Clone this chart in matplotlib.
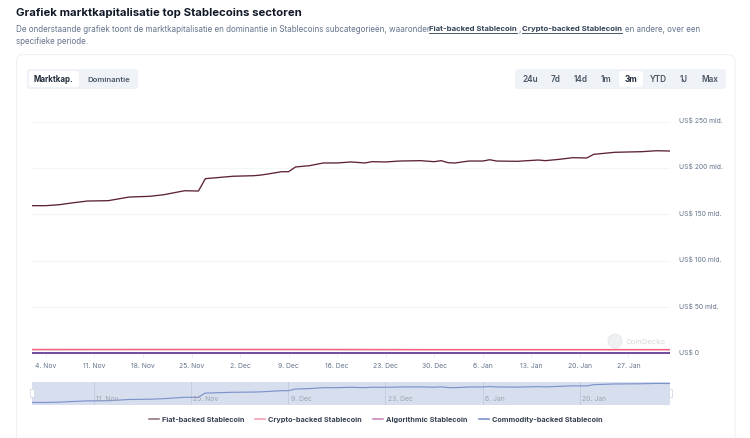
import matplotlib
matplotlib.use("Agg")
import matplotlib.pyplot as plt
from matplotlib.patches import FancyBboxPatch, Rectangle, Circle
from matplotlib.transforms import ScaledTranslation
import pandas as pd

plt.rcParams["font.family"] = ["Inter", "DejaVu Sans"]

fiat_dates = ["2024-11-02", "2024-11-04", "2024-11-06", "2024-11-08", "2024-11-10", "2024-11-13",
              "2024-11-16", "2024-11-19", "2024-11-21", "2024-11-24", "2024-11-26", "2024-11-27",
              "2024-12-01", "2024-12-04", "2024-12-05", "2024-12-06", "2024-12-08", "2024-12-09",
              "2024-12-10", "2024-12-12", "2024-12-14", "2024-12-16", "2024-12-18", "2024-12-20",
              "2024-12-21", "2024-12-23", "2024-12-25", "2024-12-28", "2024-12-30", "2024-12-31",
              "2025-01-01", "2025-01-02", "2025-01-04", "2025-01-06", "2025-01-07", "2025-01-08",
              "2025-01-11", "2025-01-14", "2025-01-15", "2025-01-17", "2025-01-19", "2025-01-21",
              "2025-01-22", "2025-01-25", "2025-01-29", "2025-01-31", "2025-02-02"]
fiat_values = [159.3, 159.3, 160.4, 162.5, 164.3, 164.7,
               168.6, 169.4, 171.1, 175.4, 175.1, 188.4,
               191.0, 191.6, 192.3, 193.4, 195.9, 195.9,
               201.0, 202.4, 205.3, 205.3, 206.4, 205.3,
               206.7, 206.4, 207.4, 207.8, 206.7, 207.8,
               205.6, 205.3, 207.4, 207.4, 208.8, 207.4,
               207.1, 208.5, 207.8, 209.2, 211.0, 210.7,
               214.6, 216.8, 217.5, 218.5, 218.2]

small_dates = ["2024-11-02", "2024-11-25", "2024-12-09", "2024-12-30", "2025-01-20", "2025-02-02"]
crypto_values = [4.2, 4.3, 4.3, 4.1, 4.1, 4.1]
algo_values = [0.4, 0.4, 0.4, 0.4, 0.4, 0.4]
commodity_values = [0.1, 0.1, 0.1, 0.1, 0.1, 0.1]

y_ticks = [0, 50, 100, 150, 200, 250]
y_labels = ["US$ 0", "US$ 50 mld.", "US$ 100 mld.", "US$ 150 mld.", "US$ 200 mld.", "US$ 250 mld."]
week_ticks = ["2024-11-04", "2024-11-11", "2024-11-18", "2024-11-25", "2024-12-02", "2024-12-09", "2024-12-16",
              "2024-12-23", "2024-12-30", "2025-01-06", "2025-01-13", "2025-01-20", "2025-01-27"]
week_labels = ["4. Nov", "11. Nov", "18. Nov", "25. Nov", "2. Dec", "9. Dec", "16. Dec",
               "23. Dec", "30. Dec", "6. Jan", "13. Jan", "20. Jan", "27. Jan"]
nav_ticks = ["2024-11-11", "2024-11-25", "2024-12-09", "2024-12-23", "2025-01-06", "2025-01-20"]
nav_labels = ["11. Nov", "25. Nov", "9. Dec", "23. Dec", "6. Jan", "20. Jan"]
range_buttons = ["24u", "7d", "14d", "1m", "3m", "YTD", "1J", "Max"]
range_centers = [530, 555.7, 580.5, 606, 631, 658, 684, 710]

W, H = 750, 439
DARK = "#1f2937"
BODY = "#64748b"
LABEL = "#4b5563"

def box(x0, y0, x1, y1):
    # axes rectangle from pixel corners, y counted from the top
    return [x0 / W, 1 - y1 / H, (x1 - x0) / W, (y1 - y0) / H]

fig = plt.figure(figsize=(7.5, 4.39), dpi=100, facecolor="white")

# page layer in pixel coordinates
page = fig.add_axes([0, 0, 1, 1], zorder=0)
page.set_xlim(0, W)
page.set_ylim(H, 0)
page.axis("off")

def pill(x0, y0, x1, y1, color, edge="none", r=3):
    page.add_patch(FancyBboxPatch((x0 + r, y0 + r), x1 - x0 - 2 * r, y1 - y0 - 2 * r,
                                  boxstyle="round,pad=%d,rounding_size=%d" % (r, r),
                                  fc=color, ec=edge, lw=0.8))

pill(16.5, 55.5, 735, 470, "white", "#eef0f4", r=7)
pill(27, 70, 138, 90, "#eff3f8")
pill(29, 72, 79, 88, "white")
pill(515, 70, 726, 90, "#eff3f8")
pill(619, 72, 643, 88, "white")

page.text(16, 13.5, "Grafiek marktkapitalisatie top Stablecoins sectoren", fontsize=8.2,
          fontweight="bold", color="#111827", va="center")
page.text(16, 29, "De onderstaande grafiek toont de marktkapitalisatie en dominantie in Stablecoins "
          "subcategorieën, waaronder", fontsize=5.8, color=BODY, va="center")
page.text(429, 29, "Fiat-backed Stablecoin", fontsize=5.6, fontweight="bold", color="#334155", va="center")
page.text(518.5, 29, ",", fontsize=5.8, color=BODY, va="center")
page.text(522, 29, "Crypto-backed Stablecoin", fontsize=5.6, fontweight="bold", color="#334155", va="center")
page.text(625, 29, "en andere, over een", fontsize=5.7, color=BODY, va="center")
page.text(16, 41, "specifieke periode.", fontsize=5.8, color=BODY, va="center")
page.plot([429, 517], [33.5, 33.5], color="#475569", lw=0.7)
page.plot([522, 622], [33.5, 33.5], color="#475569", lw=0.7)

page.text(53.5, 80, "Marktkap.", fontsize=5.7, fontweight="bold", color=DARK, ha="center", va="center")
page.text(108.5, 80, "Dominantie", fontsize=5.6, fontweight="semibold", color=LABEL, ha="center", va="center")
for name, cx in zip(range_buttons, range_centers):
    page.text(cx, 80, name, fontsize=5.9, fontweight="bold" if name == "3m" else "semibold",
              color=DARK if name == "3m" else LABEL, ha="center", va="center")

# watermark
page.add_patch(Circle((615, 342), 7, fc="#eef0f2", ec="#e4e6e9", lw=0.6))
page.text(626, 342, "CoinGecko", fontsize=5.5, color="#d5d8dc", va="center")

d_fiat = pd.to_datetime(fiat_dates)
d_small = pd.to_datetime(small_dates)
x_start = pd.Timestamp("2024-11-02")
x_end = pd.Timestamp("2025-02-02")

# main chart
ax = fig.add_axes(box(32, 122.5, 670, 354.5), zorder=2)
ax.patch.set_alpha(0)
ax.plot(d_small, commodity_values, color="#3b4ea6", lw=1.1, zorder=3)
ax.plot(d_small, algo_values, color="#7b2d8f", lw=1.1, alpha=0.7, zorder=4)
ax.plot(d_small, crypto_values, color="#f4607f", lw=1.15, zorder=4)
ax.plot(d_fiat, fiat_values, color="#5e2233", lw=0.95, zorder=5)
ax.set_xlim(x_start, x_end)
ax.set_ylim(0, 250)
ax.yaxis.tick_right()
ax.set_yticks(y_ticks)
ax.set_yticklabels(y_labels, fontsize=4.9, color=BODY, va="bottom")
ax.tick_params(axis="y", length=0, pad=6.6)
for lab in ax.get_yticklabels():
    lab.set_transform(lab.get_transform() + ScaledTranslation(0, -1 / 100, fig.dpi_scale_trans))
ax.set_xticks(pd.to_datetime(week_ticks))
ax.set_xticklabels(week_labels, fontsize=4.9, color=BODY)
ax.tick_params(axis="x", length=3, width=0.5, color="#e5e7eb", pad=3)
ax.grid(axis="y", color="#f4f5f7", lw=0.8)
ax.set_axisbelow(True)
for s in ax.spines.values():
    s.set_visible(False)

# navigator below the chart
nav = fig.add_axes(box(31.5, 383, 670, 406), zorder=2)
nav.set_facecolor("#d7deee")
nav.plot(d_fiat, fiat_values, color="#7d93cc", lw=0.85)
nav.set_xlim(x_start, x_end)
nav.set_ylim(151.5, 222.9)
nav.set_yticks([])
nav.set_xticks(pd.to_datetime(nav_ticks))
nav.set_xticklabels([])
nav.tick_params(axis="x", length=0)
nav.grid(axis="x", color="#c5cde0", lw=0.7)
nav.set_axisbelow(True)
for t, name in zip(nav_ticks, nav_labels):
    nav.annotate(name, (pd.Timestamp(t), 0), xycoords=("data", "axes fraction"), xytext=(1.6, 2.6),
                 textcoords="offset points", fontsize=4.9, color="#9ca3af", va="bottom")
for s in nav.spines.values():
    s.set_visible(False)

top = fig.add_axes([0, 0, 1, 1], zorder=3)
top.set_xlim(0, W)
top.set_ylim(H, 0)
top.axis("off")
top.patch.set_alpha(0)
top.add_patch(Rectangle((30, 390), 3.6, 8, fc="white", ec="#cbd5e1", lw=0.5))
top.add_patch(Rectangle((668.5, 390), 3.6, 8, fc="white", ec="#cbd5e1", lw=0.5))

# legend
legend_items = [("Fiat-backed Stablecoin", "#8d6b75", 149, 161.5),
                ("Crypto-backed Stablecoin", "#f29ab0", 255, 268),
                ("Algorithmic Stablecoin", "#c77db5", 373, 386),
                ("Commodity-backed Stablecoin", "#6f86c4", 479, 491.7)]
for name, color, hx, tx in legend_items:
    top.plot([hx, hx + 10], [420, 420], color=color, lw=1.1)
    top.text(tx, 419.7, name, fontsize=5.25, fontweight="bold", color="#374151", va="center")

fig.savefig("out.png", dpi=100)
